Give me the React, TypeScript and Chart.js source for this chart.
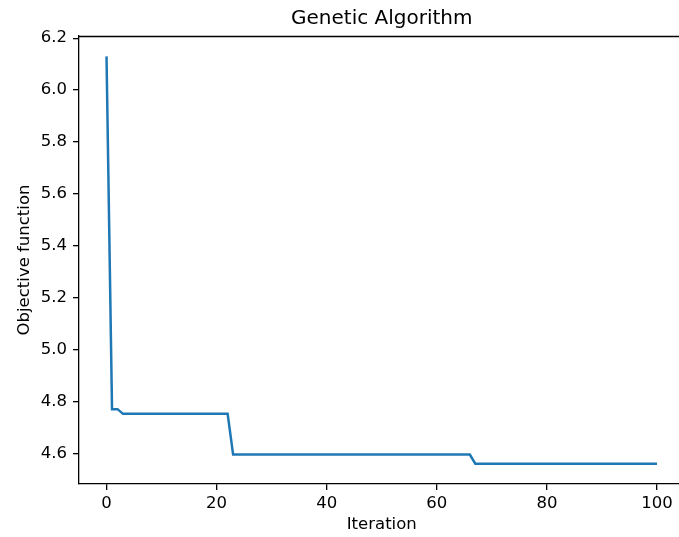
import React, { useEffect, useRef } from "react";
import { Chart, registerables } from "chart.js";

Chart.register(...registerables);

// Objective function value at each iteration (0..100)
const objective: number[] = [
  6.13, 4.77, 4.77,
  4.752, 4.752, 4.752, 4.752, 4.752, 4.752, 4.752, 4.752, 4.752, 4.752,
  4.752, 4.752, 4.752, 4.752, 4.752, 4.752, 4.752, 4.752, 4.752, 4.752,
  4.595, 4.595, 4.595, 4.595, 4.595, 4.595, 4.595, 4.595, 4.595, 4.595,
  4.595, 4.595, 4.595, 4.595, 4.595, 4.595, 4.595, 4.595, 4.595, 4.595,
  4.595, 4.595, 4.595, 4.595, 4.595, 4.595, 4.595, 4.595, 4.595, 4.595,
  4.595, 4.595, 4.595, 4.595, 4.595, 4.595, 4.595, 4.595, 4.595, 4.595,
  4.595, 4.595, 4.595, 4.595,
  4.56, 4.56, 4.56, 4.56, 4.56, 4.56, 4.56, 4.56, 4.56, 4.56,
  4.56, 4.56, 4.56, 4.56, 4.56, 4.56, 4.56, 4.56, 4.56, 4.56,
  4.56, 4.56, 4.56, 4.56, 4.56, 4.56, 4.56, 4.56, 4.56, 4.56,
  4.56, 4.56, 4.56, 4.56,
];

const xTicks: number[] = [0, 20, 40, 60, 80, 100];
const yTicks: number[] = [4.6, 4.8, 5.0, 5.2, 5.4, 5.6, 5.8, 6.0, 6.2];

const TITLE = "Genetic Algorithm";
const X_LABEL = "Iteration";
const Y_LABEL = "Objective function";

const FONT = "'DejaVu Sans', sans-serif";

export default function App() {
  const ref = useRef<HTMLCanvasElement>(null);

  useEffect(() => {
    const canvas = ref.current;
    if (!canvas) return;

    const frame = {
      id: "frame",
      afterLayout(chart: any) {
        const t = chart.titleBlock;
        if (t) {
          t.left = chart.chartArea.left;
          t.right = chart.chartArea.right;
        }
      },
      afterDraw(chart: any) {
        const { ctx, chartArea: a } = chart;
        ctx.save();
        ctx.strokeStyle = "#000";
        ctx.lineWidth = 1.3;
        ctx.beginPath();
        ctx.moveTo(a.left, Math.round(a.top) + 0.5);
        ctx.lineTo(a.right, Math.round(a.top) + 0.5);
        ctx.lineTo(a.right, a.bottom);
        ctx.stroke();
        ctx.restore();
      },
    };

    const axisCommon = {
      grid: {
        display: true,
        drawOnChartArea: false,
        drawTicks: true,
        tickLength: 6,
        color: "#000",
        lineWidth: 1.3,
      },
      border: { display: true, color: "#000", width: 1.3 },
    };

    const chart = new Chart(canvas, {
      type: "line",
      data: {
        datasets: [
          {
            data: objective.map((v, i) => ({ x: i, y: v })),
            borderColor: "#1f77b4",
            borderWidth: 2.5,
            pointRadius: 0,
            tension: 0,
            fill: false,
          },
        ],
      },
      plugins: [frame],
      options: {
        responsive: false,
        animation: false,
        devicePixelRatio: 1,
        layout: { padding: { left: 0, right: 15.5, top: 0, bottom: 0 } },
        font: { family: FONT },
        plugins: {
          legend: { display: false },
          tooltip: { enabled: false },
          title: {
            display: true,
            text: TITLE,
            color: "#000",
            font: { family: FONT, size: 20, weight: "normal" },
            padding: { top: 6.7, bottom: 5.3 },
          },
        },
        scales: {
          x: {
            type: "linear",
            min: -5,
            max: 105,
            afterBuildTicks: (s: any) => {
              s.ticks = xTicks.map((v) => ({ value: v }));
            },
            afterFit: (s: any) => {
              s.height = 53;
            },
            ticks: {
              color: "#000",
              font: { family: FONT, size: 16.5 },
              padding: 4,
              maxRotation: 0,
              callback: (v: any) => String(v),
            },
            title: {
              display: true,
              text: X_LABEL,
              color: "#000",
              font: { family: FONT, size: 16.5 },
              padding: { top: 0, bottom: 2.1 },
            },
            ...axisCommon,
          },
          y: {
            type: "linear",
            min: 4.4815,
            max: 6.2085,
            afterBuildTicks: (s: any) => {
              s.ticks = yTicks.map((v) => ({ value: v }));
            },
            afterFit: (s: any) => {
              s.width = 79;
            },
            ticks: {
              color: "#000",
              font: { family: FONT, size: 16.5 },
              padding: 6,
              callback: (v: any) => Number(v).toFixed(1),
            },
            title: {
              display: true,
              text: Y_LABEL,
              color: "#000",
              font: { family: FONT, size: 16.5 },
              padding: { top: 15.1, bottom: 0 },
            },
            ...axisCommon,
          },
        },
      } as any,
    });

    return () => chart.destroy();
  }, []);

  return (
    <div
      style={{
        position: "fixed",
        left: 0,
        top: 0,
        width: 679,
        height: 537,
        overflow: "hidden",
        background: "#fff",
      }}
    >
      <canvas ref={ref} width={700} height={537} style={{ display: "block" }} />
    </div>
  );
}
